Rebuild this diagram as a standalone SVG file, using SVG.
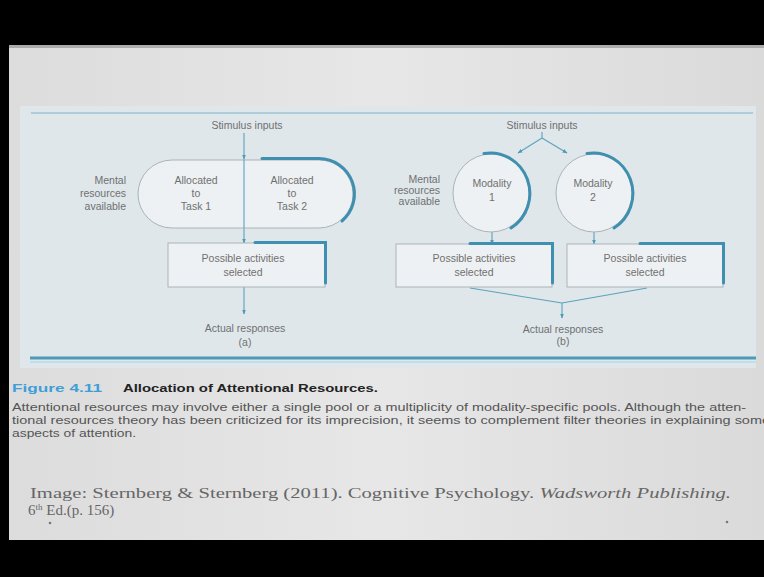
<svg xmlns="http://www.w3.org/2000/svg" width="764" height="577" viewBox="0 0 764 577">
<defs>
<linearGradient id="slide" x1="0" y1="0" x2="1" y2="0">
<stop offset="0" stop-color="#dcdcdc"/>
<stop offset="0.5" stop-color="#e7e7e7"/>
<stop offset="1" stop-color="#dadada"/>
</linearGradient>
<marker id="ah" viewBox="0 0 10 10" refX="9" refY="5" markerWidth="5" markerHeight="5" orient="auto" markerUnits="userSpaceOnUse">
<path d="M0,1 L10,5 L0,9 Z" fill="#4f9ab6"/>
</marker>
<style>
.lbl{font-family:"Liberation Sans",Arial,sans-serif;font-size:10.5px;fill:#707070;text-anchor:middle}
.lblr{font-family:"Liberation Sans",Arial,sans-serif;font-size:10.5px;fill:#707070;text-anchor:end}
.box{fill:#eef1f3;stroke:#a9b4b9;stroke-width:1}
.shade{fill:none;stroke:#3f8fb0;stroke-width:3;stroke-linecap:round}
.conn{fill:none;stroke:#5aa2bd;stroke-width:1.1;marker-end:url(#ah)}
.plain{fill:none;stroke:#5aa2bd;stroke-width:1.1}
.cap{font-family:"Liberation Sans",Arial,sans-serif;font-size:10px;fill:#555}
.src{font-family:"Liberation Serif","Times New Roman",serif;font-size:15px;fill:#666}
</style>
</defs>

<!-- slide background -->
<rect x="0" y="0" width="764" height="577" fill="url(#slide)"/>
<rect x="0" y="0" width="764" height="45" fill="#000"/>
<rect x="0" y="540" width="764" height="37" fill="#000"/>
<rect x="0" y="0" width="9" height="577" fill="#000"/>
<rect x="9" y="45" width="755" height="3" fill="#8a8a8a" opacity="0.6"/>

<!-- figure panel -->
<rect x="20" y="106" width="736" height="262" fill="#dfe7eb"/>
<line x1="31" y1="113" x2="753" y2="113" stroke="#7fb3c6" stroke-width="1.2"/>
<line x1="30" y1="358" x2="756" y2="358" stroke="#4c9cb8" stroke-width="3"/>
<line x1="30" y1="362" x2="756" y2="362" stroke="#bfe0ea" stroke-width="2"/>

<!-- connectors -->
<g id="connectors">
<line class="conn" x1="244" y1="133" x2="244" y2="159"/>
<line class="plain" x1="244" y1="159" x2="244" y2="229"/>
<line class="conn" x1="244" y1="229" x2="244" y2="243"/>
<line class="conn" x1="244" y1="287" x2="244" y2="314"/>
<polyline class="plain" points="542,132 542,138"/>
<line class="conn" x1="542" y1="138" x2="518" y2="153"/>
<line class="conn" x1="542" y1="138" x2="567" y2="153"/>
<line class="conn" x1="492" y1="231" x2="492" y2="244"/>
<line class="conn" x1="594" y1="231" x2="594" y2="244"/>
<line class="plain" x1="470" y1="288" x2="562" y2="303"/>
<line class="plain" x1="647" y1="288" x2="562" y2="303"/>
<line class="conn" x1="562" y1="303" x2="562" y2="318"/>
</g>

<!-- left diagram (a) -->
<g id="stimulus-a"><text class="lbl" x="247" y="129">Stimulus inputs</text></g>
<g id="mental-a">
<text class="lblr" x="126" y="184">Mental</text>
<text class="lblr" x="126" y="197">resources</text>
<text class="lblr" x="126" y="210">available</text>
</g>
<g id="pool-a">
<rect class="box" x="138" y="160" width="215" height="68" rx="34" ry="34" style="fill:#edf1f3"/>
<line x1="244" y1="160" x2="244" y2="228" stroke="#5aa2bd" stroke-width="1.1"/>
<path class="shade" d="M262,158.5 L319,158.5 A35.5,35.5 0 0 1 342,221"/>
<text class="lbl" x="196" y="184">Allocated</text>
<text class="lbl" x="196" y="197">to</text>
<text class="lbl" x="196" y="210">Task 1</text>
<text class="lbl" x="292" y="184">Allocated</text>
<text class="lbl" x="292" y="197">to</text>
<text class="lbl" x="292" y="210">Task 2</text>
</g>
<g id="possible-a">
<rect class="box" x="168" y="243" width="157" height="44"/>
<path class="shade" d="M255,242.5 L325.5,242.5 L325.5,283"/>
<text class="lbl" x="243" y="262">Possible activities</text>
<text class="lbl" x="243" y="276">selected</text>
</g>
<g id="actual-a">
<text class="lbl" x="245" y="332">Actual responses</text>
<text class="lbl" x="245" y="346">(a)</text>
</g>

<!-- right diagram (b) -->
<g id="stimulus-b"><text class="lbl" x="542" y="129">Stimulus inputs</text></g>
<g id="mental-b">
<text class="lblr" x="440" y="183">Mental</text>
<text class="lblr" x="440" y="194">resources</text>
<text class="lblr" x="440" y="205">available</text>
</g>
<g id="modality-1">
<ellipse class="box" cx="491" cy="193" rx="38" ry="39" style="fill:#edf1f3"/>
<path class="shade" d="M484,153.5 A39.5,40.5 0 0 1 511,228"/>
<text class="lbl" x="492" y="187">Modality</text>
<text class="lbl" x="492" y="201">1</text>
</g>
<g id="modality-2">
<ellipse class="box" cx="594" cy="193" rx="38" ry="39" style="fill:#edf1f3"/>
<path class="shade" d="M587,153.5 A39.5,40.5 0 0 1 614,228"/>
<text class="lbl" x="593" y="187">Modality</text>
<text class="lbl" x="593" y="201">2</text>
</g>
<g id="possible-b1">
<rect class="box" x="396" y="244" width="156" height="43"/>
<path class="shade" d="M470,243.5 L552.5,243.5 L552.5,283"/>
<text class="lbl" x="474" y="262">Possible activities</text>
<text class="lbl" x="474" y="276">selected</text>
</g>
<g id="possible-b2">
<rect class="box" x="567" y="244" width="156" height="43"/>
<path class="shade" d="M640,243.5 L723.5,243.5 L723.5,283"/>
<text class="lbl" x="645" y="262">Possible activities</text>
<text class="lbl" x="645" y="276">selected</text>
</g>
<g id="actual-b">
<text class="lbl" x="563" y="333">Actual responses</text>
<text class="lbl" x="563" y="345">(b)</text>
</g>

<!-- caption -->
<g id="caption">
<text x="12" y="392" font-family="'Liberation Sans',Arial,sans-serif" font-size="11.5" font-weight="bold" fill="#3d9fd6" textLength="90" lengthAdjust="spacingAndGlyphs">Figure 4.11</text>
<text x="123" y="392" font-family="'Liberation Sans',Arial,sans-serif" font-size="11" font-weight="bold" fill="#222" textLength="255" lengthAdjust="spacingAndGlyphs">Allocation of Attentional Resources.</text>
<text class="cap" x="12" y="411" textLength="734" lengthAdjust="spacingAndGlyphs">Attentional resources may involve either a single pool or a multiplicity of modality-specific pools. Although the atten-</text>
<text class="cap" x="12" y="424" textLength="758" lengthAdjust="spacingAndGlyphs">tional resources theory has been criticized for its imprecision, it seems to complement filter theories in explaining some</text>
<text class="cap" x="12" y="437" textLength="124" lengthAdjust="spacingAndGlyphs">aspects of attention.</text>
</g>

<!-- source -->
<g id="source">
<text class="src" x="30" y="498" textLength="701" lengthAdjust="spacingAndGlyphs">Image: Sternberg &amp; Sternberg (2011). Cognitive Psychology. <tspan font-style="italic">Wadsworth Publishing.</tspan></text>
<text class="src" x="28" y="515">6<tspan font-size="9" dy="-5">th</tspan><tspan dy="5"> Ed.(p. 156)</tspan></text>
<circle cx="50" cy="523" r="1.3" fill="#777"/>
<circle cx="727" cy="522" r="1.3" fill="#777"/>
</g>
</svg>
